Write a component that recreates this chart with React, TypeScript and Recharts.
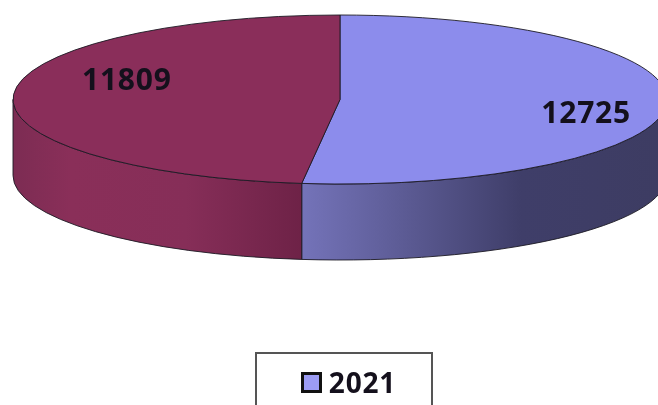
import { PieChart, Pie, Legend } from 'recharts';

// the reference cuts the legend off after its first entry, so the red slice has no readable name
const sliceNames = ['2021', ''];
const sliceValues = [12725, 11809];
const sliceColors = ['#8c8cec', '#8a2e5a'];
const wallStops = [
  [[0, '#7473b9'], [0.2, '#63629f'], [0.6, '#3f3e69'], [1, '#3d3c62']],
  [[0, '#7c2c53'], [0.2, '#8a2f59'], [0.6, '#862e58'], [1, '#6e2247']],
];

const rows = sliceNames.map((name, i) => ({ name, value: sliceValues[i], fill: sliceColors[i] }));

const RX = 327;
const RY = 84.5;
const DEPTH = 76;
const RAD = Math.PI / 180;
const LINE = '#1c1a24';
const FONT = "'Noto Sans', sans-serif";

function Slice3D(props: any) {
  const { cx, cy, startAngle, endAngle, fill, index } = props;
  const pt = (deg: number, dy = 0) =>
    `${cx + RX * Math.cos(deg * RAD)} ${cy - RY * Math.sin(deg * RAD) + dy}`;

  // angles run clockwise from the top; only the front half of the rim shows a wall
  const hi = Math.min(Math.max(startAngle, endAngle), 0);
  const lo = Math.max(Math.min(startAngle, endAngle), -180);
  const large = Math.abs(endAngle - startAngle) > 180 ? 1 : 0;
  const gid = `wall-${index}`;

  return (
    <g>
      <defs>
        <linearGradient id={gid} x1="0" y1="0" x2="1" y2="0">
          {wallStops[index].map(([o, c]) => (
            <stop key={String(o)} offset={o as number} stopColor={c as string} />
          ))}
        </linearGradient>
      </defs>
      {hi > lo && (
        <path
          d={`M${pt(hi)} A${RX} ${RY} 0 0 1 ${pt(lo)} L${pt(lo, DEPTH)} A${RX} ${RY} 0 0 0 ${pt(hi, DEPTH)} Z`}
          fill={`url(#${gid})`}
          stroke={LINE}
          strokeWidth={0.9}
        />
      )}
      <path
        d={`M${cx} ${cy} L${pt(startAngle)} A${RX} ${RY} 0 ${large} 1 ${pt(endAngle)} Z`}
        fill={fill}
        stroke={LINE}
        strokeWidth={0.9}
      />
    </g>
  );
}

// nudges for the value labels, relative to the middle of each slice
const labelNudge = [
  { k: 0.754, dy: 8 },
  { k: 0.653, dy: -18 },
];

function ValueLabel(props: any) {
  const { cx, cy, midAngle, value, index } = props;
  const { k, dy } = labelNudge[index];
  return (
    <text
      x={cx + RX * k * Math.cos(midAngle * RAD)}
      y={cy - RY * k * Math.sin(midAngle * RAD) + dy}
      textAnchor="middle"
      dominantBaseline="central"
      fontFamily={FONT}
      fontWeight={700}
      fontSize={30}
      letterSpacing={0.8}
      fill="#14101c"
    >
      {value}
    </text>
  );
}

function LegendBox({ payload }: any) {
  const items = (payload || []).filter((p: any) => p.value);
  return (
    <div
      style={{
        boxSizing: 'border-box',
        width: 178,
        height: 80,
        border: '2px solid #555',
        display: 'flex',
        justifyContent: 'center',
        paddingTop: 15,
        paddingLeft: 9,
        fontFamily: FONT,
        fontWeight: 700,
        fontSize: 28,
        letterSpacing: 0.8,
        color: '#14101c',
      }}
    >
      {items.map((p: any) => (
        <div key={p.value} style={{ display: 'flex', alignItems: 'flex-start', lineHeight: '27px' }}>
          <span
            style={{
              boxSizing: 'border-box',
              width: 21,
              height: 21,
              marginTop: 3,
              marginRight: 7,
              border: '3px solid #111',
              background: '#9c9cf4',
            }}
          />
          {p.value}
        </div>
      ))}
    </div>
  );
}

export default function App() {
  return (
    <div style={{ position: 'absolute', left: 0, top: 0, width: 658, height: 405, overflow: 'hidden', background: '#fff', filter: 'blur(0.5px)' }}>
      <PieChart width={658} height={405} margin={{ top: 0, right: 0, bottom: 0, left: 0 }}>
        <Pie
          data={rows}
          dataKey="value"
          nameKey="name"
          cx={340}
          cy={99.5}
          outerRadius={RX}
          startAngle={90}
          endAngle={-270}
          stroke="none"
          shape={Slice3D}
          label={ValueLabel}
          labelLine={false}
          isAnimationActive={false}
        />
        <Legend content={LegendBox} wrapperStyle={{ left: 255, top: 352, width: 178, bottom: 'auto' }} />
      </PieChart>
    </div>
  );
}
